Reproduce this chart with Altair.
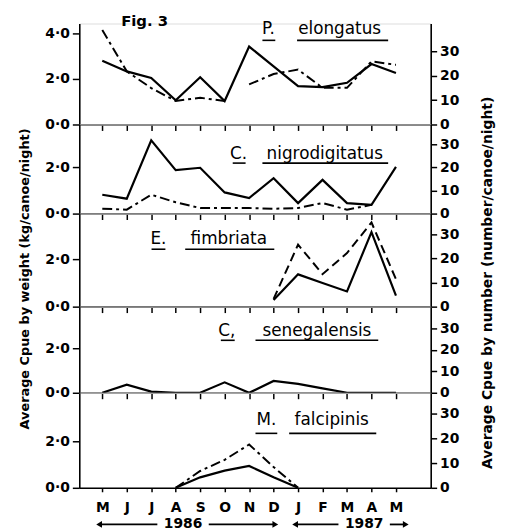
import altair as alt
import pandas as pd

FONT = "DejaVu Sans"

months = ["M", "J", "J", "A", "S", "O", "N", "D", "J", "F", "M", "A", "M"]

abbr = ["P.", "C.", "E.", "C,", "M."]
names = ["elongatus", "nigrodigitatus", "fimbriata", "senegalensis", "falcipinis"]

# kg/canoe/night (solid, left axis) and number/canoe/night (broken, right axis)
elongatus_weight = [2.8, 2.33, 2.04, 1.06, 2.07, 1.03, 3.42, 2.55, 1.68, 1.64, 1.83, 2.65, 2.26]
elongatus_number = [38.9, 21.9, 15.0, 9.7, 11.0, 9.7, 16.5, 20.8, 22.6, 15.1, 15.1, 26.0, 24.6]
elongatus_number_part = [0, 0, 0, 0, 0, 0, 1, 1, 1, 1, 1, 1, 1]

nigro_weight = [0.81, 0.64, 3.15, 1.87, 1.97, 0.91, 0.67, 1.52, 0.45, 1.45, 0.45, 0.38, 2.01]
nigro_number = [2.1, 1.7, 8.2, 4.9, 2.4, 2.4, 2.4, 2.1, 2.4, 4.6, 1.7, 3.8, None]

fimbriata_weight = [None, None, None, None, None, None, None, 0.28, 1.36, 1.0, 0.64, 3.14, 0.46]
fimbriata_number = [None, None, None, None, None, None, None, 3.2, 25.8, 13.5, 22.3, 35.0, 11.4]

senegalensis_weight = [0.0, 0.36, 0.05, 0.0, 0.0, 0.47, 0.0, 0.53, 0.4, 0.2, 0.0, 0.0, 0.0]
senegalensis_number = [None, None, None, None, None, None, None, None, None, None, None, None, None]

falcipinis_weight = [None, None, None, 0.0, 0.45, 0.74, 0.94, 0.45, 0.0, None, None, None, None]
falcipinis_number = [None, None, None, 0.0, 6.8, 11.3, 17.5, 8.4, 0.0, None, None, None, None]

left_ticks_top = [0, 2, 4]
left_ticks = [0, 2]
right_ticks = [0, 10, 20, 30]

years = ["1986", "1987"]
year_from = [-0.13, 7.88]
year_to = [7.07, 12.4]
year_mid = [3.3, 10.7]

# ---------------- layout -----------------
W = 355
heights = [102, 90, 94, 87, 96]
left_max = [4.43, 3.83, 3.92, 3.87, 4.09]
right_max = [41.6, 38.6, 38.7, 40.0, 38.4]
# abbr_x, name_x, text_y, abbr underline, name underline, underline y
label_pos = [
    (191, 263, 6, (185, 198), (220, 312), 17),
    (161, 248, 30, (155, 168), (185, 312), 39),
    (80, 151, 26, (73, 87), (107, 197), 36),
    (149, 240, 25, (143, 157), (178, 302), 34),
    (189, 255, 28, (178, 200), (212, 300), 41),
]
DASHDOT = [10, 4, 3, 4]
DASHED = [9, 5]

month_expr = "[" + ",".join("'%s'" % m for m in months) + "][datum.value]"
dot_expr = "replace(format(datum.value, '.1f'), '.', '·')"


def to_df(values, parts=None):
    rows = []
    for i, v in enumerate(values):
        if v is None:
            continue
        rows.append({"i": i, "v": v, "seg": parts[i] if parts else 0})
    return pd.DataFrame(rows, columns=["i", "v", "seg"])


one = alt.Data(values=[{"a": 1}])


def txt(s, x, y, size=17, weight="normal", angle=None):
    kw = dict(fontSize=size, fontWeight=weight, font=FONT, color="black",
              align="center", baseline="middle")
    if angle is not None:
        kw["angle"] = angle
    return alt.Chart(one).mark_text(**kw).encode(
        x=alt.value(x), y=alt.value(y), text=alt.value(s))


def uline(x1, x2, y):
    return alt.Chart(one).mark_rule(color="black", strokeWidth=1.6).encode(
        x=alt.value(x1), x2=alt.value(x2), y=alt.value(y))


common = dict(domainColor="black", tickColor="black", domainWidth=1.6,
              tickWidth=1.5, grid=False, title=None)


def panel(k, weight, number, parts, dash, lticks, bottom):
    xscale = alt.Scale(domain=[-0.94, 13.42], nice=False, zero=False)
    if bottom:
        xaxis = alt.Axis(values=list(range(13)), labelExpr=month_expr, tickSize=4,
                         labelPadding=9, labelFontSize=14, labelFontWeight="bold",
                         labelFont=FONT, labelColor="black", orient="bottom", **common)
    else:
        xaxis = alt.Axis(values=list(range(13)), labels=False, tickSize=6,
                         orient="bottom", **common)

    solid = alt.Chart(to_df(weight)).mark_line(color="black", strokeWidth=2.2).encode(
        x=alt.X("i:Q", scale=xscale, axis=xaxis),
        y=alt.Y("v:Q", scale=alt.Scale(domain=[0, left_max[k]], nice=False, zero=False),
                axis=alt.Axis(orient="left", values=lticks, labelExpr=dot_expr,
                              tickSize=7, labelPadding=3, labelFontSize=14,
                              labelFontWeight="bold", labelFont=FONT, labelColor="black",
                              **common)),
        detail="seg:N",
    )
    broken = alt.Chart(to_df(number, parts)).mark_line(
        color="black", strokeWidth=2, strokeDash=dash).encode(
        x=alt.X("i:Q", scale=xscale, axis=xaxis),
        y=alt.Y("v:Q", scale=alt.Scale(domain=[0, right_max[k]], nice=False, zero=False),
                axis=alt.Axis(orient="right", values=right_ticks, format="d",
                              tickSize=6, labelPadding=3, labelFontSize=14,
                              labelFontWeight="bold", labelFont=FONT, labelColor="black",
                              **common)),
        detail="seg:N",
    )
    ax, nx, ty, aul, nul, uy = label_pos[k]
    layers = [solid, broken,
              txt(abbr[k], ax, ty), txt(names[k], nx, ty),
              uline(aul[0], aul[1], uy), uline(nul[0], nul[1], uy)]
    if k == 0:
        layers.append(txt("Fig. 3", 66, -2, size=15, weight="bold"))
    if k == 2:
        layers.append(txt("Average Cpue by weight (kg/canoe/night)", -55, 66,
                          size=13, weight="bold", angle=270))
        layers.append(txt("Average Cpue by number (number/canoe/night)", 413, 70,
                          size=14, weight="bold", angle=270))
    if bottom:
        segs = []
        heads = []
        for y, a, b, m in zip(years, year_from, year_to, year_mid):
            segs.append({"a": a, "b": m - 1.05})
            segs.append({"a": m + 1.05, "b": b})
            heads.append({"x": a, "sh": "triangle-left"})
            heads.append({"x": b, "sh": "triangle-right"})
        ydf = pd.DataFrame({"x": year_mid, "t": years})
        yy = 133
        layers.append(alt.Chart(pd.DataFrame(segs)).mark_rule(color="black", strokeWidth=1.8).encode(
            x=alt.X("a:Q", scale=xscale, axis=xaxis), x2="b:Q", y=alt.value(yy)))
        layers.append(alt.Chart(pd.DataFrame(heads)).mark_point(
            filled=True, color="black", size=45, opacity=1).encode(
            x=alt.X("x:Q", scale=xscale, axis=xaxis), y=alt.value(yy),
            shape=alt.Shape("sh:N", scale=None)))
        layers.append(alt.Chart(ydf).mark_text(fontSize=14, fontWeight="bold", font=FONT,
                                               color="black", baseline="middle").encode(
            x=alt.X("x:Q", scale=xscale, axis=xaxis), y=alt.value(yy), text="t:N"))
    return alt.layer(*layers).resolve_scale(y="independent").properties(
        width=W, height=heights[k])


panels = [
    panel(0, elongatus_weight, elongatus_number, elongatus_number_part, DASHDOT, left_ticks_top, False),
    panel(1, nigro_weight, nigro_number, None, DASHDOT, left_ticks, False),
    panel(2, fimbriata_weight, fimbriata_number, None, DASHED, left_ticks, False),
    panel(3, senegalensis_weight, senegalensis_number, None, DASHED, left_ticks, False),
    panel(4, falcipinis_weight, falcipinis_number, None, DASHDOT, left_ticks, True),
]

chart = alt.vconcat(*panels, spacing=0, bounds="flush").properties(
    padding={"left": 10, "top": 3, "right": 5, "bottom": 0},
    background="white",
).configure_view(strokeWidth=0).configure(font=FONT).configure_axis(grid=False)

chart.save("out.html", embed_options={"renderer": "svg", "actions": False})
